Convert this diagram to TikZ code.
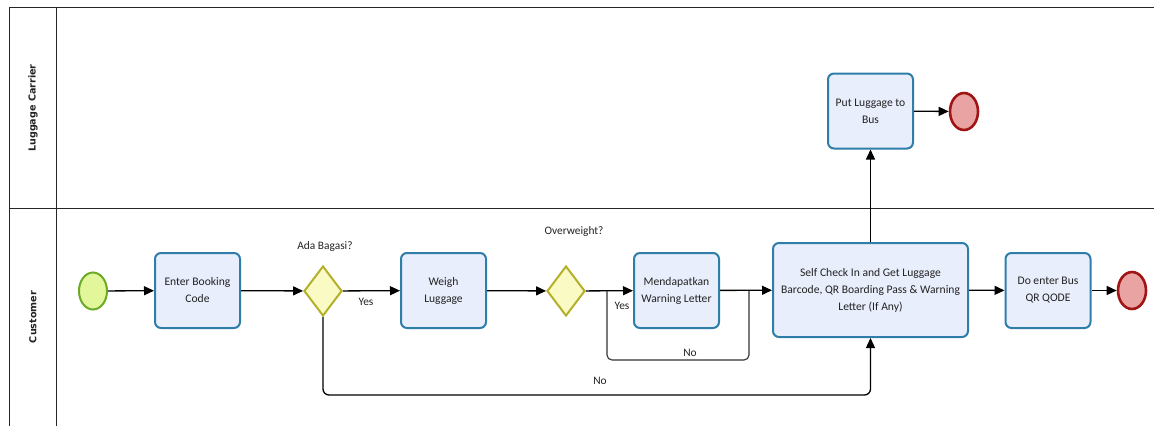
\documentclass[tikz,border=0pt]{standalone}
\usepackage{fontspec}
\setmainfont{Carlito}
\newfontfamily\lanefont{DejaVu Sans}
\usetikzlibrary{shapes.geometric,arrows.meta}
\definecolor{taskfill}{HTML}{E9EEFC}
\definecolor{taskline}{HTML}{2F7EA9}
\definecolor{startfill}{HTML}{E2F79A}
\definecolor{startline}{HTML}{6DAA27}
\definecolor{gwfill}{HTML}{FAFAC4}
\definecolor{gwline}{HTML}{B4B02A}
\definecolor{endfill}{HTML}{E9A3A3}
\definecolor{endline}{HTML}{A01414}
\definecolor{txt}{HTML}{222222}
\tikzset{
  task/.style={draw=taskline, fill=taskfill, line width=2pt, rounded corners=6pt,
    minimum width=85pt, minimum height=75pt, inner sep=2pt, align=center,
    font=\fontsize{11.6}{17}\selectfont, text=txt},
  bigtask/.style={task, minimum width=195pt, minimum height=94pt},
  startev/.style={ellipse, draw=startline, fill=startfill, line width=2pt,
    minimum width=28pt, minimum height=37pt, inner sep=0pt},
  endev/.style={ellipse, draw=endline, fill=endfill, line width=2.6pt,
    minimum width=28pt, minimum height=37pt, inner sep=0pt},
  gateway/.style={diamond, draw=gwline, fill=gwfill, line width=2pt,
    minimum width=38pt, minimum height=50pt, inner sep=0pt},
  flow/.style={line width=1.3pt, -{Triangle[length=10pt,width=9pt]}},
  plain/.style={line width=1.1pt, draw=black!80},
  lbl/.style={font=\fontsize{11.4}{13}\selectfont, text=txt, inner sep=1pt},
  lane/.style={line width=1pt, draw=black!85},
  lanetitle/.style={rotate=90, font=\lanefont\bfseries\fontsize{9.6}{12}\selectfont, text=txt}
}
\begin{document}
\begin{tikzpicture}[x=1pt, y=-1pt]
\useasboundingbox (0,0) rectangle (1154,426);
% pool and lanes
\draw[lane] (1154,7) -- (9,7) -- (9,426);
\draw[lane] (56,7) -- (56,426);
\draw[lane] (9,208) -- (1154,208);
\node[lanetitle] (laneA) at (33,108) {Luggage Carrier};
\node[lanetitle] (laneB) at (33,317) {Customer};

% customer lane
\node[startev] (start) at (93,291) {};
\node[task] (enter) at (197.5,290.5) {Enter Booking\\Code};
\node[gateway] (gw1) at (323,291) {};
\node[lbl] (gw1q) at (325,247) {Ada Bagasi?};
\node[task] (weigh) at (443.5,290.5) {Weigh\\Luggage};
\node[gateway] (gw2) at (566,291) {};
\node[lbl] (gw2q) at (574,232) {Overweight?};
\node[task] (warn) at (676.5,290.5) {Mendapatkan\\Warning Letter};
\node[bigtask] (check) at (870.5,290) {Self Check In and Get Luggage\\Barcode, QR Boarding Pass \& Warning\\Letter (If Any)};
\node[task] (bus) at (1048,290.5) {Do enter Bus\\QR QODE};
\node[endev] (end2) at (1132,290.5) {};

% carrier lane
\node[task] (put) at (870.5,111) {Put Luggage to\\Bus};
\node[endev] (end1) at (964,111.5) {};

% branch points
\coordinate (split2) at (607,291);
\coordinate (join2) at (749,291);
\coordinate (low2a) at (607,360);
\coordinate (low2b) at (749,360);
\coordinate (low1) at (870.5,395);

% sequence flows
\draw[flow] (start) -- (enter);
\draw[flow] (enter) -- (gw1);
\draw[flow] (gw1) -- (weigh);
\draw[flow] (weigh) -- (gw2);
\draw[flow] (gw2) -- (warn);
\draw[flow] (warn) -- (check);
\draw[flow] (check) -- (bus);
\draw[flow] (bus) -- (end2);
\draw[flow] (check) -- (put);
\draw[flow] (put) -- (end1);
\draw[plain, rounded corners=5pt] (split2) -- (low2a) -- (low2b) -- (join2);
\draw[flow, rounded corners=6pt] (gw1.south) |- (low1) -- (check.south);

% flow labels
\node[lbl] (yes1) at (366,302) {Yes};
\node[lbl] (yes2) at (622,306) {Yes};
\node[lbl] (no2) at (690,353) {No};
\node[lbl] (no1) at (600,381) {No};
\end{tikzpicture}
\end{document}
